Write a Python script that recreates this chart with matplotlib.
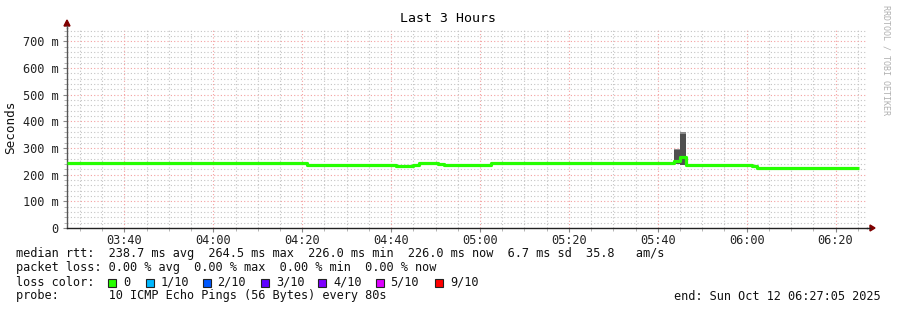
import numpy as np
import matplotlib
matplotlib.use("Agg")
import matplotlib.pyplot as plt
from matplotlib.ticker import FixedLocator, MultipleLocator

# ── Data (minutes after 03:27:05, median rtt in ms) ─────────────────────────
seg_start = [0, 54.0, 55.35, 74.0, 76.7, 77.9, 79.2, 83.5, 84.8, 95.4,
             136.6, 137.9, 139.3, 154.1, 155.25]
seg_end = 178.2
median_ms = [242.3, 237.5, 235.0, 231.0, 231.5, 235.0, 242.0, 240.0, 237.5,
             242.0, 252.0, 264.5, 238.0, 233.5, 226.0]

# smoke (spread of the pings)
smoke_t0 = [56.5, 84.8, 92.2, 136.6, 137.9]
smoke_t1 = [58.0, 87.3, 93.6, 137.9, 139.3]
smoke_lo = [235.0, 237.5, 237.5, 240.0, 236.0]
smoke_mid = [238.0, 240.0, 240.0, 294.0, 352.0]
smoke_hi = [239.0, 241.0, 241.0, 298.0, 361.0]

tick_labels = ["03:40", "04:00", "04:20", "04:40", "05:00",
               "05:20", "05:40", "06:00", "06:20"]
first_tick = 12 + 55 / 60  # 03:40:00 after 03:27:05

loss_labels = ["0", "1/10", "2/10", "3/10", "4/10", "5/10", "9/10"]
loss_colors = ["#26ff00", "#00b8ff", "#0059ff", "#5e00ff",
               "#7e00ff", "#dd00ff", "#ff0000"]

W, H = 897, 310
fig = plt.figure(figsize=(W / 100, H / 100), dpi=100)
fig.patch.set_facecolor("white")
L, R, T, B = 67, 867, 28, 228
ax = fig.add_axes([L / W, 1 - B / H, (R - L) / W, (B - T) / H])
mono = "DejaVu Sans Mono"
fs = 8.55

# smoke
for t0, t1, lo, mid, hi in zip(smoke_t0, smoke_t1, smoke_lo, smoke_mid, smoke_hi):
    if hi - lo > 10:
        ax.fill_between([t0, t1], lo, hi, color="#8c8c8c", lw=0, zorder=2)
        ax.fill_between([t0, t1], lo, mid, color="#505050", lw=0, zorder=2)
    else:
        ax.fill_between([t0, t1], lo, hi, color="#c4c4c4", lw=0, zorder=2)

# median line
xs = seg_start + [seg_end]
ys = median_ms + [median_ms[-1]]
ax.step(xs, ys, where="post", color="#26ff00", lw=2.3, zorder=3,
        solid_capstyle="butt")

ax.set_xlim(0, 180)
ax.set_ylim(0, 750)

majors = [first_tick + 20 * i for i in range(len(tick_labels))]
minors = [first_tick - 10 + 5 * i for i in range(36) if first_tick - 10 + 5 * i < 180]
ax.xaxis.set_major_locator(FixedLocator(majors))
ax.xaxis.set_minor_locator(FixedLocator(minors))
ax.set_xticklabels(tick_labels, fontfamily=mono, fontsize=fs)
ax.yaxis.set_major_locator(MultipleLocator(100))
ax.yaxis.set_minor_locator(MultipleLocator(20))
ax.set_yticks(range(0, 701, 100))
ax.set_yticklabels(["0"] + [f"{v} m" for v in range(100, 701, 100)],
                   fontfamily=mono, fontsize=fs)

ax.grid(which="minor", color="#c4c4c4", lw=0.8, ls=(0, (1, 2)))
ax.grid(which="major", color="#f4a0a0", lw=0.8, ls=(0, (1, 2)))
ax.set_axisbelow(True)
ax.tick_params(which="major", length=3, color="#888888", labelcolor="#222222")
ax.tick_params(axis="x", which="major", pad=1)
ax.tick_params(axis="y", which="major", pad=3)
ax.tick_params(which="minor", length=2, color="#aaaaaa")

for s in ["top", "right"]:
    ax.spines[s].set_visible(False)
ax.spines["left"].set_color("#555555")
ax.spines["bottom"].set_color("#222222")
ax.spines["left"].set_linewidth(1)
ax.spines["bottom"].set_linewidth(1)

# axis arrows
fig.add_artist(plt.Polygon([[L / W - 3 / W, 1 - 26 / H], [L / W + 3 / W, 1 - 26 / H],
                            [L / W, 1 - 20 / H]], closed=True, color="#800000"))
fig.add_artist(plt.Polygon([[870 / W, 1 - (B - 3) / H], [870 / W, 1 - (B + 3) / H],
                            [875 / W, 1 - B / H]], closed=True, color="#800000"))
fig.add_artist(plt.Line2D([R / W, 870 / W], [1 - B / H, 1 - B / H], color="#222222", lw=1))
fig.add_artist(plt.Line2D([L / W, L / W], [1 - T / H, 1 - 26 / H], color="#555555", lw=1))

fig.text(11 / W, 1 - 127 / H, "Seconds", rotation=90, ha="center", va="center",
         fontfamily=mono, fontsize=fs + 0.5, color="#111111")
fig.text(448 / W, 1 - 19 / H, "Last 3 Hours", ha="center", va="center",
         fontfamily=mono, fontsize=9.5)
fig.text(886 / W, 1 - 5 / H, "RRDTOOL / TOBI OETIKER", rotation=270,
         ha="center", va="top", fontfamily=mono, fontsize=6, color="#b0b0b0")

def put(x, y, s, **kw):
    fig.text(x / W, 1 - y / H, s, ha="left", va="center",
             fontfamily=mono, fontsize=fs, color="#111111", **kw)

put(16, 254, "median rtt:  238.7 ms avg  264.5 ms max  226.0 ms min  "
             "226.0 ms now  6.7 ms sd  35.8   am/s")
put(16, 268, "packet loss: 0.00 % avg  0.00 % max  0.00 % min  0.00 % now")
put(16, 282, "loss color:")
sq_x = [108, 145.5, 202.5, 261, 318, 375.5, 435]
for x0, lab, col in zip(sq_x, loss_labels, loss_colors):
    fig.add_artist(plt.Rectangle((x0 / W, 1 - 286.5 / H), 8 / W, 8 / H,
                                 facecolor=col, edgecolor="#222222", lw=0.8))
    put(x0 + 15, 282, lab)
put(16, 296, "probe:       10 ICMP Echo Pings (56 Bytes) every 80s")
fig.text(881 / W, 1 - 296 / H, "end: Sun Oct 12 06:27:05 2025", ha="right",
         va="center", fontfamily=mono, fontsize=fs, color="#111111")

fig.savefig("out.png", dpi=100, facecolor="white")
